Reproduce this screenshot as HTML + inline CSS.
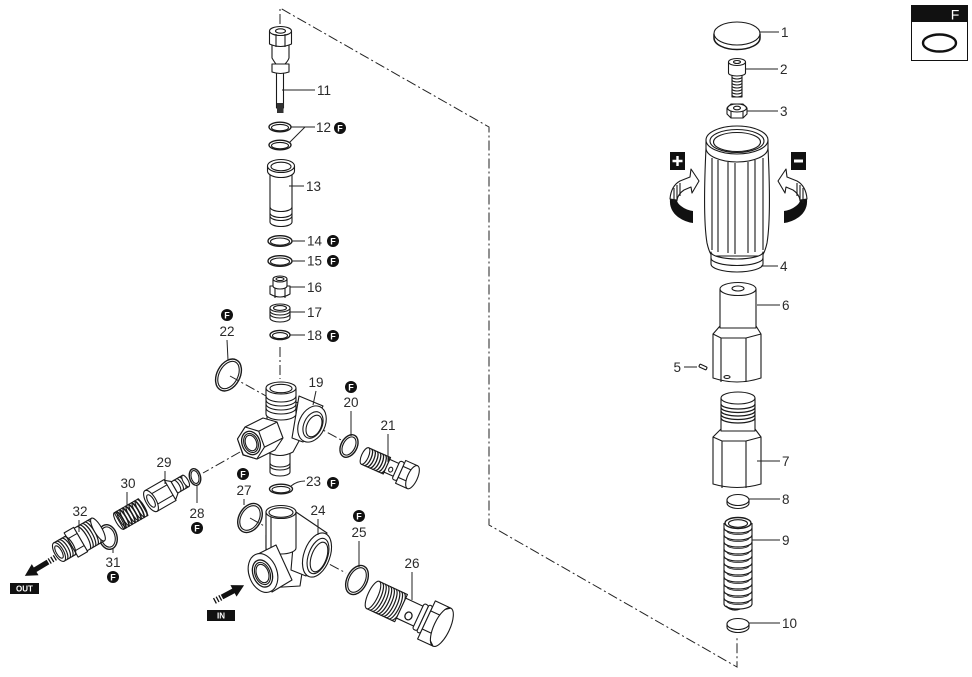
<!DOCTYPE html>
<html><head><meta charset="utf-8">
<style>
html,body{margin:0;padding:0;background:#fff;}
svg{display:block;}
text{font-family:"Liberation Sans",sans-serif;font-size:13.5px;fill:#2a2a2a;}
.p{fill:#fff;stroke:#1a1a1a;stroke-width:1.1;stroke-linejoin:round;}
.n{fill:none;stroke:#1a1a1a;stroke-width:1.1;}
.l{fill:none;stroke:#222;stroke-width:1;}
.d{fill:none;stroke:#222;stroke-width:1;stroke-dasharray:10 3 2 3;}
.fc{fill:#111;}
.ft{font-size:9px;font-weight:bold;fill:#fff;}
.bx{font-size:8px;font-weight:bold;fill:#fff;}
</style></head><body>
<svg width="972" height="677" viewBox="0 0 972 677" xmlns="http://www.w3.org/2000/svg">

<!-- main dash-dot outline -->
<path class="d" d="M280,24 L280,8 L489,127 L489,525 L737,667 L737,637"/>
<path class="d" d="M280,347 L280,379"/>
<path class="d" d="M230,376 L266,396"/>
<path class="d" d="M312,424 L343,441"/>
<path class="d" d="M240,452 L203,473"/>
<path class="d" d="M250,518 L266,527"/>
<path class="d" d="M314,556 L346,573"/>

<!-- ===== Part 11 ===== -->
<g>
  <rect class="p" x="276.5" y="72" width="7" height="36"/>
  <rect x="277" y="103" width="6.5" height="10" fill="#333"/>
  <path class="p" d="M272,64 L289,64 L289,72 Q280.5,75 272,72 Z"/>
  <path class="p" d="M272,45 L272,58 Q275,63 276,64 L285,64 Q288,61 289,58 L289,45 Z"/>
  <path class="p" d="M269.5,31 L269.5,44 Q280.5,49 291.5,44 L291.5,31 Z"/>
  <ellipse class="p" cx="280.5" cy="31" rx="11" ry="4.5"/>
  <ellipse class="n" cx="280.5" cy="31" rx="5" ry="2.2"/>
  <path class="n" d="M276,34 L276,47 M285,34 L285,47"/>
</g>
<path class="l" d="M282,90 L315,90"/>
<text x="317" y="95">11</text>

<!-- 12 -->
<ellipse class="n" cx="280" cy="127" rx="11" ry="4.8" style="stroke-width:1.4"/>
<ellipse class="n" cx="280" cy="127.6" rx="8.5" ry="3.2"/>
<ellipse class="n" cx="280" cy="145" rx="11" ry="4.8" style="stroke-width:1.4"/>
<ellipse class="n" cx="280" cy="145.6" rx="8.5" ry="3.2"/>
<path class="l" d="M291,127 L315,127 M289,143 L305,127"/>
<text x="316" y="132">12</text>
<circle class="fc" cx="340" cy="128" r="6"/><text class="ft" x="340" y="131.3" text-anchor="middle">F</text>

<!-- 13 -->
<g>
  <path class="p" d="M270,172 L270,222 A11,4.5 0 0 0 292,222 L292,172 Z"/>
  <path class="n" d="M270,207 A11,4.5 0 0 0 292,207 M270,213 A11,4.5 0 0 0 292,213 M270,216 A11,4.5 0 0 0 292,216"/>
  <path class="p" d="M267.5,166 L267.5,171 A13.5,6.5 0 0 0 294.5,171 L294.5,166 Z"/>
  <ellipse class="p" cx="281" cy="166" rx="13.5" ry="6.5"/>
  <ellipse class="n" cx="281" cy="166.5" rx="10" ry="4.3"/>
</g>
<path class="l" d="M289,186 L304,186"/>
<text x="306" y="191">13</text>

<!-- 14 15 -->
<ellipse class="n" cx="280" cy="241" rx="12" ry="5.3" style="stroke-width:1.4"/>
<ellipse class="n" cx="280" cy="241.6" rx="9.5" ry="3.6"/>
<path class="l" d="M292,241 L305,241"/>
<text x="307" y="245.5">14</text>
<circle class="fc" cx="333" cy="241" r="6"/><text class="ft" x="333" y="244.3" text-anchor="middle">F</text>
<ellipse class="n" cx="280" cy="261" rx="12" ry="5.3" style="stroke-width:1.4"/>
<ellipse class="n" cx="280" cy="261.6" rx="9.5" ry="3.6"/>
<path class="l" d="M292,261 L305,261"/>
<text x="307" y="265.5">15</text>
<circle class="fc" cx="333" cy="261" r="6"/><text class="ft" x="333" y="264.3" text-anchor="middle">F</text>

<!-- 16 -->
<g>
  <path class="p" d="M270,286 L270,294 Q280,300 290,294 L290,286 Z"/>
  <path class="n" d="M275,288 L275,298 M285,288 L285,298"/>
  <path class="p" d="M273,279 L273,286 A7,3 0 0 0 287,286 L287,279 Z"/>
  <ellipse class="p" cx="280" cy="279" rx="7" ry="3"/>
  <ellipse class="n" cx="280" cy="279" rx="4" ry="1.6"/>
</g>
<path class="l" d="M290,287 L305,287"/>
<text x="307" y="292">16</text>

<!-- 17 -->
<g>
  <path class="p" d="M270,308 L270,318 A10,4 0 0 0 290,318 L290,308 Z"/>
  <path class="n" d="M270,311 A10,4 0 0 0 290,311 M270,314 A10,4 0 0 0 290,314"/>
  <ellipse class="p" cx="280" cy="308" rx="10" ry="4"/>
  <ellipse class="n" cx="280" cy="308" rx="6.5" ry="2.4"/>
</g>
<path class="l" d="M290,312 L305,312"/>
<text x="307" y="317">17</text>

<!-- 18 -->
<ellipse class="n" cx="280" cy="335" rx="10" ry="4.6" style="stroke-width:1.4"/>
<ellipse class="n" cx="280" cy="335.6" rx="7.5" ry="3"/>
<path class="l" d="M290,335 L305,335"/>
<text x="307" y="340">18</text>
<circle class="fc" cx="333" cy="336" r="6"/><text class="ft" x="333" y="339.3" text-anchor="middle">F</text>

<!-- 22 -->
<circle class="fc" cx="227" cy="315" r="6"/><text class="ft" x="227" y="318.3" text-anchor="middle">F</text>
<text x="227" y="336" text-anchor="middle">22</text>
<path class="l" d="M227,340 L228,360"/>
<ellipse class="n" cx="228.5" cy="375" rx="11.5" ry="17" transform="rotate(28 228.5 375)" style="stroke-width:1.4"/>
<ellipse class="n" cx="228.5" cy="375" rx="9.3" ry="14.7" transform="rotate(28 228.5 375)"/>

<!-- ===== Body 19 ===== -->
<g>
  <path class="p" d="M270,450 L270,472 A10,4 0 0 0 290,472 L290,450 Z"/>
  <path class="n" d="M270,463 A10,4 0 0 0 290,463 M270,466 A10,4 0 0 0 290,466"/>
  <path class="p" d="M267,410 L267,452 Q280,459 293,452 L299,441 L299,402 Z"/>
  <path class="p" d="M299,396 L323,406 L303,442 L292,438 Z"/>
  <ellipse class="p" cx="312" cy="424" rx="13" ry="19" transform="rotate(25 312 424)"/>
  <ellipse class="n" cx="313" cy="425" rx="9" ry="14" transform="rotate(25 313 425)"/>
  <ellipse class="n" cx="314" cy="426" rx="7" ry="11.5" transform="rotate(25 314 426)"/>
  <path class="p" d="M266,388 L266,414 A15,6 0 0 0 296,414 L296,388 Z"/>
  <path class="n" d="M266,396 A15,6 0 0 0 296,396 M266,400 A15,6 0 0 0 296,400 M266,404 A15,6 0 0 0 296,404 M266,408 A15,6 0 0 0 296,408"/>
  <ellipse class="p" cx="281" cy="388" rx="15" ry="6"/>
  <ellipse class="n" cx="281" cy="388.5" rx="11" ry="4.2"/>
  <polygon class="p" points="245,427 263,418 277,422 283,438 275,450 257,459 243,455 237.5,439"/>
  <polygon class="p" points="245.2,427 258.7,431.2 264.5,447.1 256.8,459 243.3,454.8 237.5,438.9"/>
  <path class="n" d="M258.7,431.2 L276.7,422.2 M264.5,447.1 L282.5,438.1"/>
  <ellipse class="n" cx="251" cy="443" rx="9" ry="12" transform="rotate(-20 251 443)" style="stroke-width:1.3"/>
  <ellipse class="n" cx="251" cy="443" rx="7" ry="9.8" transform="rotate(-20 251 443)"/>
  <ellipse class="n" cx="251" cy="443" rx="5.5" ry="8" transform="rotate(-20 251 443)"/>
</g>
<text x="316" y="387" text-anchor="middle">19</text>
<path class="l" d="M316,391 L313,405"/>

<!-- 20 -->
<circle class="fc" cx="351" cy="387" r="6"/><text class="ft" x="351" y="390.3" text-anchor="middle">F</text>
<text x="351" y="407" text-anchor="middle">20</text>
<path class="l" d="M351,411 L351,436"/>
<ellipse class="n" cx="349" cy="446" rx="8" ry="12" transform="rotate(28 349 446)" style="stroke-width:1.4"/>
<ellipse class="n" cx="349" cy="446" rx="6" ry="9.8" transform="rotate(28 349 446)"/>

<!-- 21 bolt -->
<g transform="translate(365,456) rotate(24)">
  <rect class="p" x="0" y="-9" width="24" height="18"/>
  <path class="n" d="M3,-9 A3.5,9 0 0 1 3,9 M6,-9 A3.5,9 0 0 1 6,9 M9,-9 A3.5,9 0 0 1 9,9 M12,-9 A3.5,9 0 0 1 12,9 M15,-9 A3.5,9 0 0 1 15,9 M18,-9 A3.5,9 0 0 1 18,9 M21,-9 A3.5,9 0 0 1 21,9" style="stroke-width:1.3"/>
  <ellipse class="p" cx="0" cy="0" rx="3.5" ry="9"/>
  <rect class="p" x="24" y="-7" width="11" height="14"/>
  <ellipse class="n" cx="29" cy="2" rx="2" ry="2.5"/>
  <rect class="p" x="34" y="-10" width="5" height="20" rx="2"/>
  <rect class="p" x="39" y="-12.5" width="13" height="25"/>
  <path class="n" d="M39,-6 L52,-6 M39,6 L52,6"/>
  <ellipse class="p" cx="52" cy="0" rx="5" ry="12.5"/>
</g>
<text x="388" y="430" text-anchor="middle">21</text>
<path class="l" d="M388,434 L388,462"/>

<!-- 23 -->
<ellipse class="n" cx="281" cy="489" rx="11.5" ry="4.8" style="stroke-width:1.4"/>
<ellipse class="n" cx="281" cy="489.6" rx="9" ry="3.2"/>
<path class="l" d="M291,486 Q297,481 305,481"/>
<text x="306" y="486">23</text>
<circle class="fc" cx="333" cy="483" r="6"/><text class="ft" x="333" y="486.3" text-anchor="middle">F</text>

<!-- 27 -->
<circle class="fc" cx="243" cy="474" r="6"/><text class="ft" x="243" y="477.3" text-anchor="middle">F</text>
<text x="244" y="495" text-anchor="middle">27</text>
<path class="l" d="M244,499 L244,505"/>
<ellipse class="n" cx="250" cy="518" rx="11" ry="15.5" transform="rotate(30 250 518)" style="stroke-width:1.4"/>
<ellipse class="n" cx="250" cy="518" rx="9" ry="13.2" transform="rotate(30 250 518)"/>

<!-- ===== Body 24 ===== -->
<g>
  <path class="p" d="M266,535 L266,588 L300,586 L304,560 L298,515 Z"/>
  <path class="p" d="M296,512 L327,533 L306,576 L291,570 Z"/>
  <ellipse class="p" cx="317" cy="555" rx="13" ry="23" transform="rotate(20 317 555)"/>
  <ellipse class="n" cx="318" cy="556" rx="9.5" ry="18.5" transform="rotate(20 318 556)"/>
  <ellipse class="n" cx="319" cy="557" rx="7.5" ry="15.5" transform="rotate(20 319 557)"/>
  <path class="p" d="M266,512 L266,548 A15,6 0 0 0 296,548 L296,512 Z"/>
  <path class="n" d="M271,517 L271,548"/>
  <ellipse class="p" cx="281" cy="512" rx="15" ry="6.5"/>
  <ellipse class="n" cx="281" cy="512.5" rx="12" ry="4.8"/>
  <path class="p" d="M256,555 L276,545 L292,580 L272,592 Z"/>
  <ellipse class="p" cx="263" cy="573" rx="14" ry="20" transform="rotate(-20 263 573)"/>
  <ellipse class="n" cx="262.5" cy="573.5" rx="9.5" ry="14" transform="rotate(-20 262.5 573.5)" style="stroke-width:1.3"/>
  <ellipse class="n" cx="262.5" cy="573.5" rx="7.5" ry="11.5" transform="rotate(-20 262.5 573.5)"/>
  <ellipse class="n" cx="262.5" cy="573.5" rx="6" ry="9.5" transform="rotate(-20 262.5 573.5)"/>
</g>
<text x="318" y="515" text-anchor="middle">24</text>
<path class="l" d="M318,519 L318,535"/>

<!-- 25 -->
<circle class="fc" cx="359" cy="516" r="6"/><text class="ft" x="359" y="519.3" text-anchor="middle">F</text>
<text x="359" y="537" text-anchor="middle">25</text>
<path class="l" d="M359,541 L359,567"/>
<ellipse class="n" cx="357" cy="580" rx="10" ry="15.5" transform="rotate(27 357 580)" style="stroke-width:1.4"/>
<ellipse class="n" cx="357" cy="580" rx="8" ry="13.2" transform="rotate(27 357 580)"/>

<!-- 26 bolt -->
<g transform="translate(373,595) rotate(25)">
  <rect class="p" x="0" y="-15" width="31" height="30"/>
  <path class="n" d="M3,-15 A5,15 0 0 1 3,15 M6,-15 A5,15 0 0 1 6,15 M9,-15 A5,15 0 0 1 9,15 M12,-15 A5,15 0 0 1 12,15 M15,-15 A5,15 0 0 1 15,15 M18,-15 A5,15 0 0 1 18,15 M21,-15 A5,15 0 0 1 21,15 M24,-15 A5,15 0 0 1 24,15 M27,-15 A5,15 0 0 1 27,15" style="stroke-width:1.2"/>
  <ellipse class="p" cx="0" cy="0" rx="5" ry="15"/>
  <rect class="p" x="31" y="-11" width="20" height="22"/>
  <ellipse class="n" cx="41" cy="4" rx="3.5" ry="4" style="stroke-width:1.3"/>
  <rect class="p" x="50" y="-14" width="5" height="28" rx="2"/>
  <rect class="p" x="55" y="-15" width="4" height="30" rx="2"/>
  <rect class="p" x="59" y="-21" width="17" height="42"/>
  <path class="n" d="M59,-10 L76,-10 M59,10 L76,10"/>
  <ellipse class="p" cx="76" cy="0" rx="8" ry="21"/>
  <path class="n" d="M71,-17 L76,-21 M71,17 L76,21"/>
</g>
<text x="412" y="568" text-anchor="middle">26</text>
<path class="l" d="M412,572 L412,600"/>

<!-- 29 -->
<g transform="translate(151,501) rotate(-30)">
  <rect class="p" x="27" y="-6.5" width="13" height="13"/>
  <path class="n" d="M30,-6.5 A2.5,6.5 0 0 1 30,6.5 M33,-6.5 A2.5,6.5 0 0 1 33,6.5 M36,-6.5 A2.5,6.5 0 0 1 36,6.5"/>
  <ellipse class="p" cx="40" cy="0" rx="2.5" ry="6.5"/>
  <path class="p" d="M21,-12 L27,-7 L27,7 L21,12 Z"/>
  <rect class="p" x="0" y="-12" width="22" height="24"/>
  <path class="n" d="M0,-6 L22,-6 M0,6 L22,6"/>
  <ellipse class="p" cx="0" cy="0" rx="5" ry="12"/>
  <ellipse class="n" cx="0" cy="0" rx="3" ry="7"/>
</g>
<text x="164" y="467" text-anchor="middle">29</text>
<path class="l" d="M165,471 L165,484"/>

<!-- 28 -->
<ellipse class="n" cx="195" cy="477" rx="5.5" ry="8.5" transform="rotate(-15 195 477)" style="stroke-width:1.4"/>
<ellipse class="n" cx="195" cy="477" rx="3.8" ry="6.6" transform="rotate(-15 195 477)"/>
<path class="l" d="M197,486 L197,503"/>
<text x="197" y="518" text-anchor="middle">28</text>
<circle class="fc" cx="197" cy="528" r="6"/><text class="ft" x="197" y="531.3" text-anchor="middle">F</text>

<!-- 30 spring -->
<g transform="translate(119,521) rotate(-30)">
  <rect class="p" x="0" y="-9.5" width="28" height="19"/>
  <path class="n" d="M2,-9.5 A2.5,9.5 0 0 1 2,9.5 M5.5,-9.5 A2.5,9.5 0 0 1 5.5,9.5 M9,-9.5 A2.5,9.5 0 0 1 9,9.5 M12.5,-9.5 A2.5,9.5 0 0 1 12.5,9.5 M16,-9.5 A2.5,9.5 0 0 1 16,9.5 M19.5,-9.5 A2.5,9.5 0 0 1 19.5,9.5 M23,-9.5 A2.5,9.5 0 0 1 23,9.5 M26.5,-9.5 A2.5,9.5 0 0 1 26.5,9.5" style="stroke-width:1.6"/>
  <path class="n" d="M3.5,-9.5 A2.5,9.5 0 0 0 3.5,9.5 M7,-9.5 A2.5,9.5 0 0 0 7,9.5 M10.5,-9.5 A2.5,9.5 0 0 0 10.5,9.5 M14,-9.5 A2.5,9.5 0 0 0 14,9.5 M17.5,-9.5 A2.5,9.5 0 0 0 17.5,9.5 M21,-9.5 A2.5,9.5 0 0 0 21,9.5 M24.5,-9.5 A2.5,9.5 0 0 0 24.5,9.5"/>
  <ellipse class="n" cx="0" cy="0" rx="3" ry="9.5"/>
</g>
<text x="128" y="488" text-anchor="middle">30</text>
<path class="l" d="M127,492 L127,506"/>

<!-- 31 -->
<ellipse class="n" cx="108" cy="537" rx="9" ry="12.5" transform="rotate(-15 108 537)" style="stroke-width:1.4"/>
<ellipse class="n" cx="108" cy="537" rx="7" ry="10.3" transform="rotate(-15 108 537)"/>
<path class="l" d="M113,549 L113,553"/>
<text x="113" y="567" text-anchor="middle">31</text>
<circle class="fc" cx="113" cy="577" r="6"/><text class="ft" x="113" y="580.3" text-anchor="middle">F</text>

<!-- 32 fitting -->
<g transform="translate(59,552) rotate(-30)">
  <rect class="p" x="25" y="-13" width="20" height="26"/>
  <path class="n" d="M28,-13 A4,13 0 0 1 28,13 M31,-13 A4,13 0 0 1 31,13 M34,-13 A4,13 0 0 1 34,13 M37,-13 A4,13 0 0 1 37,13 M40,-13 A4,13 0 0 1 40,13" style="stroke-width:1.2"/>
  <ellipse class="p" cx="45" cy="0" rx="4" ry="13"/>
  <rect class="p" x="14" y="-14" width="11" height="28"/>
  <path class="n" d="M14,-7 L25,-7 M14,7 L25,7"/>
  <rect class="p" x="0" y="-10.5" width="14" height="21"/>
  <path class="n" d="M3,-10.5 A4,10.5 0 0 1 3,10.5 M6,-10.5 A4,10.5 0 0 1 6,10.5 M9,-10.5 A4,10.5 0 0 1 9,10.5 M12,-10.5 A4,10.5 0 0 1 12,10.5" style="stroke-width:1.2"/>
  <ellipse class="p" cx="0" cy="0" rx="4.5" ry="10.5"/>
  <ellipse class="n" cx="0" cy="0" rx="2.8" ry="7"/>
</g>
<text x="80" y="516" text-anchor="middle">32</text>
<path class="l" d="M79,520 L79,532"/>

<!-- OUT arrow -->
<g transform="translate(48,562) rotate(149)">
  <rect x="0" y="-2.6" width="16" height="5.2" fill="#111"/>
  <polygon points="15,-6.5 27,0 15,6.5" fill="#111"/>
  <path d="M-2,-3 L-2,3 M-5,-3 L-5,3 M-8,-3 L-8,3" stroke="#111" stroke-width="1.3"/>
</g>
<rect x="10" y="583" width="29" height="11" fill="#111"/>
<text class="bx" x="24.5" y="591.5" text-anchor="middle">OUT</text>

<!-- IN arrow -->
<g transform="translate(222,597) rotate(-28)">
  <rect x="0" y="-2.6" width="14" height="5.2" fill="#111"/>
  <polygon points="13,-6.5 25,0 13,6.5" fill="#111"/>
  <path d="M-2,-3 L-2,3 M-5,-3 L-5,3 M-8,-3 L-8,3" stroke="#111" stroke-width="1.3"/>
</g>
<rect x="207" y="610" width="28" height="11" fill="#111"/>
<text class="bx" x="221" y="618.5" text-anchor="middle">IN</text>

<!-- ===== Right column ===== -->
<path class="p" d="M714,34 L714,38 A23,11.5 0 0 0 760,38 L760,34 Z" style="stroke-width:1.5"/>
<ellipse class="p" cx="737" cy="33.5" rx="23" ry="11.5"/>
<path class="l" d="M760,32 L779,32"/>
<text x="781" y="37">1</text>

<rect class="p" x="732" y="74" width="10" height="23"/>
<path class="n" d="M732,77 A5,2 0 0 0 742,77 M732,80 A5,2 0 0 0 742,80 M732,83 A5,2 0 0 0 742,83 M732,86 A5,2 0 0 0 742,86 M732,89 A5,2 0 0 0 742,89 M732,92 A5,2 0 0 0 742,92 M732,95 A5,2 0 0 0 742,95"/>
<path class="p" d="M728.5,62 L728.5,73 A8.5,3 0 0 0 745.5,73 L745.5,62 Z"/>
<ellipse class="p" cx="737" cy="62" rx="8.5" ry="3.5"/>
<ellipse class="n" cx="737" cy="62" rx="3.5" ry="1.5"/>
<path class="l" d="M745,69 L778,69"/>
<text x="780" y="74">2</text>

<polygon class="p" points="727,108 731,104 743,104 747,108 747,114 743,118 731,118 727,114"/>
<ellipse class="n" cx="737" cy="108" rx="9.5" ry="4"/>
<ellipse class="n" cx="737" cy="108" rx="3.5" ry="1.8"/>
<path class="n" d="M731,111 L731,118 M743,111 L743,118"/>
<path class="l" d="M747,111 L778,111"/>
<text x="780" y="116">3</text>

<path class="p" d="M706,148 C704,190 704,225 707,243 Q709,252 712,256 L762,256 Q765,252 767,243 C770,225 770,190 768,148 Z"/>
<path class="n" d="M712,158 L712,250 M718,160 L718,252 M728,162 L728,253 M735,163 L735,254 M748,162 L748,253 M755,160 L755,252 M763,158 L763,250"/>
<path class="p" d="M711,252 A26,7 0 0 0 763,252 L763,264 A26,8 0 0 1 711,264 Z"/>
<path class="n" d="M711,258 A26,7.5 0 0 0 763,258"/>
<path class="p" d="M706,140 L706,148 A31,14 0 0 0 768,148 L768,140 Z"/>
<ellipse class="p" cx="737" cy="140" rx="31" ry="14"/>
<ellipse class="n" cx="737" cy="141" rx="27" ry="11.5"/>
<ellipse class="n" cx="737" cy="142" rx="23.5" ry="9.5"/>
<path class="l" d="M761,266 L778,266"/>
<text x="780" y="271">4</text>

<rect x="670" y="152" width="15" height="18" fill="#111"/>
<path d="M672.5,161 L682.5,161 M677.5,156 L677.5,166" stroke="#fff" stroke-width="2.4"/>
<rect x="791" y="152" width="15" height="18" fill="#111"/>
<path d="M794,161 L803,161" stroke="#fff" stroke-width="3"/>

<g>
  <path d="M670,199 Q669,210 678,217 Q685,222 693,223 L693,211 Q686,210 681,206 Q677,203 677,200 Z" fill="#111"/>
  <path class="p" d="M670,199 Q671,186 680,181 L690,177 L691,169 L699,181 L692,193 L691,187 L684,190 Q678,194 677,200 Z"/>
  <path class="n" d="M674,188 L674,203 M677,185 L677,201 M680,183 L680,196"/>
</g>
<g transform="translate(1477,0) scale(-1,1)">
  <path d="M670,199 Q669,210 678,217 Q685,222 693,223 L693,211 Q686,210 681,206 Q677,203 677,200 Z" fill="#111"/>
  <path class="p" d="M670,199 Q671,186 680,181 L690,177 L691,169 L699,181 L692,193 L691,187 L684,190 Q678,194 677,200 Z"/>
  <path class="n" d="M674,188 L674,203 M677,185 L677,201 M680,183 L680,196"/>
</g>

<path class="p" d="M720,326 L713,334 L713,378 Q737,386 761,378 L761,334 L756,326 Z"/>
<path class="n" d="M713,334 L721,338 L746,338 L761,334 M721,338 L721,382 M746,338 L746,382"/>
<ellipse class="n" cx="727" cy="377" rx="3" ry="1.5"/>
<path class="p" d="M720,289 L720,328 L756,328 L756,289 Z"/>
<ellipse class="p" cx="738" cy="289" rx="18" ry="6.5"/>
<ellipse class="n" cx="738" cy="288.5" rx="6" ry="2.5"/>
<path class="l" d="M757,305 L780,305"/>
<text x="782" y="310">6</text>

<g transform="translate(703,367) rotate(25)">
  <rect class="p" x="-4" y="-1.5" width="8" height="3" rx="1"/>
</g>
<path class="l" d="M684,367 L697,367"/>
<text x="681" y="372" text-anchor="end">5</text>

<path class="p" d="M721,429 L713,437 L713,484 Q737,491 761,484 L761,437 L755,429 Z"/>
<path class="n" d="M713,437 L722,441 L746,441 L761,437 M722,441 L722,488 M746,441 L746,488"/>
<path class="p" d="M721,398 L721,431 L755,431 L755,398 Z"/>
<path class="n" d="M721,404 A17,5 0 0 0 755,404 M721,407.5 A17,5 0 0 0 755,407.5 M721,411 A17,5 0 0 0 755,411 M721,414.5 A17,5 0 0 0 755,414.5 M721,418 A17,5 0 0 0 755,418" style="stroke-width:1.3"/>
<ellipse class="p" cx="738" cy="398" rx="17" ry="6"/>
<path class="l" d="M757,461 L780,461"/>
<text x="782" y="466">7</text>

<path class="p" d="M727,500 L727,503 A11,5.5 0 0 0 749,503 L749,500 Z"/>
<ellipse class="p" cx="738" cy="500" rx="11" ry="5.5"/>
<path class="l" d="M749,499 L780,499"/>
<text x="782" y="504">8</text>

<g>
  <path class="n" d="M724,523 L724,604 M752,523 L752,604"/>
  <g style="fill:none;stroke:#1a1a1a;stroke-width:1.2">
    <path d="M724,528 A14,5 0 0 0 752,528"/><path d="M724,535 A14,5 0 0 0 752,535"/>
    <path d="M724,542 A14,5 0 0 0 752,542"/><path d="M724,549 A14,5 0 0 0 752,549"/>
    <path d="M724,556 A14,5 0 0 0 752,556"/><path d="M724,563 A14,5 0 0 0 752,563"/>
    <path d="M724,570 A14,5 0 0 0 752,570"/><path d="M724,577 A14,5 0 0 0 752,577"/>
    <path d="M724,584 A14,5 0 0 0 752,584"/><path d="M724,591 A14,5 0 0 0 752,591"/>
    <path d="M724,598 A14,5 0 0 0 752,598"/><path d="M724,604 A14,5 0 0 0 752,604"/>
  </g>
  <g style="fill:none;stroke:#1a1a1a;stroke-width:0.8">
    <path d="M727,531 A11,3.5 0 0 0 749,531"/><path d="M727,538 A11,3.5 0 0 0 749,538"/>
    <path d="M727,545 A11,3.5 0 0 0 749,545"/><path d="M727,552 A11,3.5 0 0 0 749,552"/>
    <path d="M727,559 A11,3.5 0 0 0 749,559"/><path d="M727,566 A11,3.5 0 0 0 749,566"/>
    <path d="M727,573 A11,3.5 0 0 0 749,573"/><path d="M727,580 A11,3.5 0 0 0 749,580"/>
    <path d="M727,587 A11,3.5 0 0 0 749,587"/><path d="M727,594 A11,3.5 0 0 0 749,594"/>
    <path d="M727,601 A11,3.5 0 0 0 749,601"/>
  </g>
  <ellipse class="n" cx="738" cy="523" rx="13" ry="5.5" style="stroke-width:1.4"/>
  <ellipse class="n" cx="738" cy="523.5" rx="9.5" ry="3.8"/>
  <path class="n" d="M726,606 Q732,612 740,609" style="stroke-width:1.3"/>
</g>
<path class="l" d="M752,540 L780,540"/>
<text x="782" y="545">9</text>

<path class="p" d="M727,624 L727,627 A11,5.5 0 0 0 749,627 L749,624 Z"/>
<ellipse class="p" cx="738" cy="624" rx="11" ry="5.5"/>
<path class="l" d="M749,623 L780,623"/>
<text x="782" y="628">10</text>

<rect x="911.5" y="5.5" width="56" height="55" fill="#fff" stroke="#111" stroke-width="1"/>
<rect x="911" y="5" width="57" height="17" fill="#111"/>
<text x="955" y="19.5" text-anchor="middle" style="font-size:14px;fill:#fff">F</text>
<ellipse cx="939.5" cy="43" rx="16.5" ry="8.5" fill="none" stroke="#111" stroke-width="2.4"/>

</svg>
</body></html>
